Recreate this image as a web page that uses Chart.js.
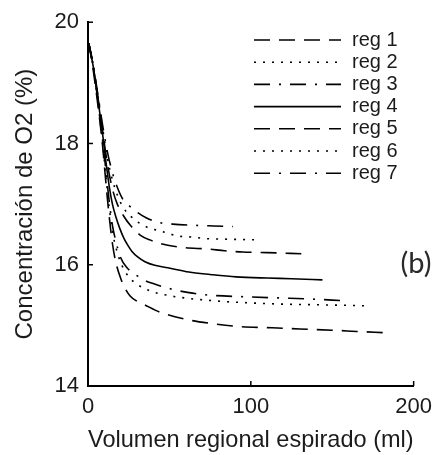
<!DOCTYPE html>
<html>
<head>
<meta charset="utf-8">
<script src="https://cdn.jsdelivr.net/npm/chart.js@4.4.0/dist/chart.umd.min.js"></script>
<style>
  html, body { margin: 0; padding: 0; background: #fff; }
</style>
</head>
<body>
<canvas id="o2Chart" width="440" height="455"></canvas>
<script>
// volumen espirado (ml) y concentración de O2 (%) de cada región
const reg1Vol = [0.5, 3, 6, 9, 11, 13, 15, 17, 20, 23, 26, 30, 34, 44, 60, 76, 93, 113, 130, 150, 165, 181];
const reg1O2  = [19.65, 19.25, 18.65, 17.95, 17.35, 16.8, 16.35, 16.05, 15.78, 15.6, 15.48, 15.4, 15.35, 15.22, 15.1, 15.03, 14.98, 14.96, 14.94, 14.92, 14.9, 14.88];

const reg2Vol = [0.5, 3, 6, 9, 11, 13, 15, 18, 21, 25, 30, 38, 48, 60, 80, 100, 120, 140, 160, 173];
const reg2O2  = [19.65, 19.3, 18.7, 18.0, 17.45, 16.95, 16.55, 16.2, 15.98, 15.8, 15.68, 15.57, 15.5, 15.45, 15.4, 15.37, 15.35, 15.34, 15.33, 15.32];

const reg3Vol = [0.5, 3, 6, 9, 11, 13, 15, 17, 20, 24, 29, 35, 40, 51, 62, 74, 98, 120, 140, 155];
const reg3O2  = [19.65, 19.3, 18.72, 18.05, 17.55, 17.05, 16.65, 16.4, 16.12, 15.95, 15.84, 15.74, 15.69, 15.6, 15.54, 15.5, 15.47, 15.45, 15.43, 15.41];

const reg4Vol = [0.5, 3, 6, 9, 11, 13, 15, 17, 19.5, 22, 24.5, 27, 30.5, 35, 41, 49, 62, 75, 91, 110, 125, 144];
const reg4O2  = [19.65, 19.3, 18.75, 18.15, 17.7, 17.3, 17.0, 16.8, 16.6, 16.44, 16.32, 16.22, 16.13, 16.05, 15.99, 15.95, 15.88, 15.84, 15.8, 15.78, 15.77, 15.75];

const reg5Vol = [0.5, 3, 6, 9, 12, 15, 18, 22, 26, 32, 38, 49, 60, 73, 84, 95, 110, 131];
const reg5O2  = [19.65, 19.3, 18.78, 18.2, 17.65, 17.25, 17.0, 16.8, 16.65, 16.49, 16.41, 16.32, 16.28, 16.26, 16.23, 16.21, 16.2, 16.18];

const reg6Vol = [0.5, 3, 6, 9, 12, 15, 18, 22, 27, 32, 38, 44, 50, 56, 62, 73, 88, 104];
const reg6O2  = [19.65, 19.32, 18.8, 18.25, 17.75, 17.4, 17.15, 16.93, 16.78, 16.68, 16.6, 16.56, 16.51, 16.47, 16.46, 16.43, 16.42, 16.41];

const reg7Vol = [0.5, 3, 6, 9, 12, 15, 17, 21, 25, 30, 36, 43, 52, 66, 77, 89];
const reg7O2  = [19.65, 19.33, 18.82, 18.3, 17.85, 17.52, 17.35, 17.1, 16.98, 16.87, 16.77, 16.7, 16.67, 16.65, 16.64, 16.63];

const regNames = ['reg 1', 'reg 2', 'reg 3', 'reg 4', 'reg 5', 'reg 6', 'reg 7'];
const xTicks = [0, 100, 200];
const yTicks = [14, 16, 18, 20];

// estilos de línea: discontinua, punteada, raya-punto, continua
const DASHED = [16, 9];
const DOTTED = [2, 7];
const DASHDOT = [16, 9, 2, 9];
const SOLID = [];
const regDash = [DASHED, DOTTED, DASHDOT, SOLID, DASHED, DOTTED, DASHDOT];

const FONT = 'Liberation Sans, Arial, sans-serif';
const INK = '#1b1b1b';

const series = [
    [reg1Vol, reg1O2], [reg2Vol, reg2O2], [reg3Vol, reg3O2], [reg4Vol, reg4O2],
    [reg5Vol, reg5O2], [reg6Vol, reg6O2], [reg7Vol, reg7O2]
];

const datasets = series.map(([vol, o2], i) => ({
    label: regNames[i],
    data: vol.map((v, k) => ({ x: v, y: o2[k] })),
    borderColor: '#000',
    borderWidth: 1.6,
    borderDash: regDash[i],
    borderCapStyle: 'butt',
    pointRadius: 0,
    fill: false,
    cubicInterpolationMode: 'monotone'
}));

// marcas de los ejes hacia dentro
const inwardTicks = {
    id: 'inwardTicks',
    afterDraw(chart) {
        const { ctx, chartArea, scales } = chart;
        ctx.save();
        ctx.strokeStyle = '#000';
        ctx.lineWidth = 1.5;
        scales.x.ticks.forEach(t => {
            const px = scales.x.getPixelForValue(t.value);
            ctx.beginPath();
            ctx.moveTo(px, chartArea.bottom);
            ctx.lineTo(px, chartArea.bottom - 5);
            ctx.stroke();
        });
        scales.y.ticks.forEach(t => {
            const py = scales.y.getPixelForValue(t.value);
            ctx.beginPath();
            ctx.moveTo(chartArea.left, py);
            ctx.lineTo(chartArea.left + 5, py);
            ctx.stroke();
        });
        ctx.restore();
    }
};

// leyenda dentro del área de trazado, arriba a la derecha
const innerLegend = {
    id: 'innerLegend',
    afterDatasetsDraw(chart) {
        const { ctx } = chart;
        ctx.save();
        ctx.font = '20px ' + FONT;
        ctx.textBaseline = 'middle';
        ctx.fillStyle = INK;
        chart.data.datasets.forEach((ds, i) => {
            const y = 40 + i * 22.2;
            ctx.strokeStyle = ds.borderColor;
            ctx.lineWidth = ds.borderWidth;
            ctx.setLineDash(ds.borderDash);
            ctx.beginPath();
            ctx.moveTo(254, y);
            ctx.lineTo(341, y);
            ctx.stroke();
            ctx.setLineDash([]);
            ctx.fillText(ds.label, 352, y);
        });
        ctx.restore();
    }
};

// rótulo del panel
const panelTag = {
    id: 'panelTag',
    afterDraw(chart) {
        const { ctx } = chart;
        ctx.save();
        ctx.font = '29px Lato, "Open Sans", sans-serif';
        ctx.fillStyle = '#2a2a2a';
        ctx.textAlign = 'center';
        ctx.textBaseline = 'middle';
        ctx.fillText('(b)', 416, 264);
        ctx.restore();
    }
};

new Chart(document.getElementById('o2Chart'), {
    type: 'line',
    data: { datasets },
    options: {
        responsive: false,
        animation: false,
        devicePixelRatio: 1,
        layout: { padding: { top: 22, right: 24, left: 0, bottom: 0 } },
        plugins: {
            legend: { display: false },
            tooltip: { enabled: false }
        },
        scales: {
            x: {
                type: 'linear',
                min: 0,
                max: 200,
                afterBuildTicks: s => { s.ticks = xTicks.map(v => ({ value: v })); },
                ticks: { color: INK, font: { family: FONT, size: 22 }, padding: 8, maxRotation: 0 },
                grid: { display: false, drawTicks: false },
                border: { display: true, color: '#000', width: 2 },
                title: {
                    display: true,
                    text: 'Volumen regional espirado (ml)',
                    color: INK,
                    font: { family: FONT, size: 24 },
                    padding: { top: 1, bottom: 0 }
                },
                afterFit: s => { s.height = 69; }
            },
            y: {
                type: 'linear',
                min: 14,
                max: 20,
                afterBuildTicks: s => { s.ticks = yTicks.map(v => ({ value: v })); },
                ticks: { color: INK, font: { family: FONT, size: 22 }, padding: 9 },
                grid: { display: false, drawTicks: false },
                border: { display: true, color: '#000', width: 2 },
                title: {
                    display: true,
                    text: 'Concentración de O2 (%)',
                    color: INK,
                    font: { family: FONT, size: 24 },
                    padding: { top: 11, bottom: 0 }
                },
                afterFit: s => { s.width = 88; }
            }
        }
    },
    plugins: [inwardTicks, innerLegend, panelTag]
});
</script>
</body>
</html>
